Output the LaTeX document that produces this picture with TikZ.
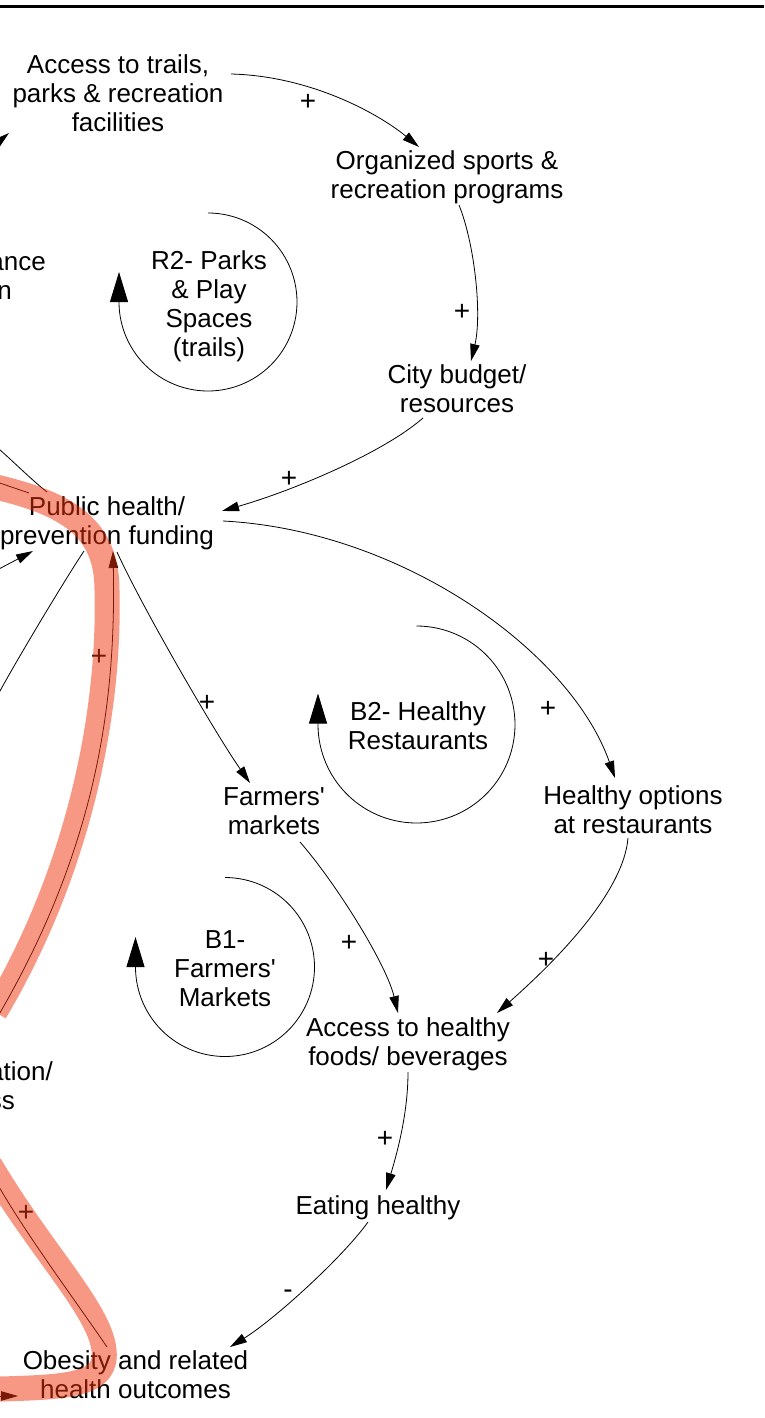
\documentclass[tikz,border=0pt]{standalone}
\usepackage{fontspec}
\setmainfont{Liberation Sans}
\usetikzlibrary{arrows.meta}

\definecolor{hilite}{RGB}{240,50,10}

\begin{document}
\begin{tikzpicture}[x=1pt,y=-1pt,
  var/.style={inner sep=0pt, align=center, font=\fontsize{26}{29}\selectfont},
  frag/.style={inner sep=0pt, anchor=base east, font=\fontsize{26}{29}\selectfont},
  pol/.style={inner sep=0pt, font=\fontsize{28}{29}\selectfont},
  link/.style={line width=0.8pt, -{Triangle[length=17pt,width=9.5pt]}},
  tail/.style={line width=0.8pt},
  loopline/.style={line width=0.8pt, -{Triangle[length=30pt,width=18pt]}},
  band/.style={line width=25pt, draw=hilite, opacity=0.5, line cap=butt, line join=round},
]
\useasboundingbox (0,0) rectangle (764,1418);
\clip (0,0) rectangle (764,1418);

% frame edge along the top
\draw[line width=3pt] (0,6.5) -- (764,6.5);

% variables
\node[var] (acc) at (118,93) {Access to trails,\\parks \& recreation\\facilities};
\node[var] (org) at (447,177.5) {Organized sports \&\\recreation programs};
\node[var] (city) at (457,389) {City budget/\\resources};
\node[var] (ph) at (107,523.5) {Public health/\\prevention funding};
\node[var] (fm) at (274,811) {Farmers\textquotesingle\\markets};
\node[var] (hor) at (633,809.5) {Healthy options\\at restaurants};
\node[var] (ahf) at (408,1044) {Access to healthy\\foods/ beverages};
\node[var] (eat) at (378,1208) {Eating healthy};
\node[var] (obe) at (135.5,1375) {Obesity and related\\health outcomes};

% variables cut by the left edge
\node[frag] (perf1) at (46,270) {ance};
\node[frag] (perf2) at (12,299) {n};
\node[frag] (edu1) at (53,1080) {ation/};
\node[frag] (edu2) at (15,1109) {ss};

% loop labels
\node[var] (r2) at (209,306) {R2- Parks\\\& Play\\Spaces\\(trails)};
\node[var] (b2) at (418,726) {B2- Healthy\\Restaurants};
\node[var] (b1) at (225,968.5) {B1-\\Farmers\textquotesingle\\Markets};

% loop arrows
\draw[loopline] plot[domain=0:270, samples=91] ({208+89*cos(90-\x)},{302-89*sin(90-\x)}) -- ++(0,-30);
\draw[loopline] plot[domain=0:270, samples=91] ({416.5+98.5*cos(90-\x)},{724.5-98.5*sin(90-\x)}) -- ++(0,-31);
\draw[loopline] plot[domain=0:270, samples=91] ({225+89.5*cos(90-\x)},{967-89.5*sin(90-\x)}) -- ++(0,-30);

% free ends leaving the frame
\coordinate (accIn) at (-40,174);
\coordinate (phOutUp) at (-10,442);
\coordinate (phOutLeft) at (-12,479);
\coordinate (phInLeft) at (-20,579);
\coordinate (phOutDown) at (-8,706);
\coordinate (phInLow) at (-6,1023);
\coordinate (obeOut) at (-8,1174);
\coordinate (obeIn) at (-30,1396);

% causal links
\draw[link] (accIn) -- ([shift={(-109,40)}]acc.center);
\draw[link] ([shift={(113,-19)}]acc.center) .. controls +(80,2) and +(-40,-33) .. ([shift={(-28,-30.5)}]org.center);
\draw[link] ([shift={(12,27.5)}]org.center) .. controls +(16,40) and +(11,-46) .. ([shift={(14,-28)}]city.center);
\draw[link] ([shift={(-34,29)}]city.center) .. controls +(-40,35) and +(70,-20) .. ([shift={(115,-12.5)}]ph.center);
\draw[link] ([shift={(116,-2.5)}]ph.center) .. controls +(177,9) and +(-45,-128) .. ([shift={(-18,-31.5)}]hor.center);
\draw[link] ([shift={(10,28.5)}]ph.center) .. controls +(25,55) and +(-35,-50) .. ([shift={(-24,-28)}]fm.center);
\draw[tail] ([shift={(-23,27.5)}]ph.center) .. controls +(-20,30) and +(15,-30) .. (phOutDown);
\draw[link] (phInLeft) -- ([shift={(-74,27.5)}]ph.center);
\draw[tail] ([shift={(-60,-31.5)}]ph.center) .. controls +(-18,-14) and +(12,8) .. (phOutUp);
\draw[tail] ([shift={(-78,-30.5)}]ph.center) -- (phOutLeft);
\draw[link] (phInLow) .. controls +(104,-175) and +(3,149) .. ([shift={(6,27.5)}]ph.center);
\draw[link] ([shift={(26,31)}]fm.center) .. controls +(35,40) and +(-12,-50) .. ([shift={(-10,-31)}]ahf.center);
\draw[link] ([shift={(-5,28.5)}]hor.center) .. controls +(-5,60) and +(45,-40) .. ([shift={(89,-31)}]ahf.center);
\draw[link] ([shift={(0,28)}]ahf.center) .. controls +(0,40) and +(12,-40) .. ([shift={(8,-18)}]eat.center);
\draw[link] ([shift={(-10,14)}]eat.center) .. controls +(-25,35) and +(45,-28) .. ([shift={(94.5,-28)}]obe.center);
\draw[tail] ([shift={(-28.5,-28)}]obe.center) .. controls +(-32,-47) and +(25,48) .. (obeOut);
\draw[link] (obeIn) -- ([shift={(-117.5,21)}]obe.center);

% polarities
\node[pol] (s1) at (308,102) {+};
\node[pol] (s2) at (462,312) {+};
\node[pol] (s3) at (289,479) {+};
\node[pol] (s4) at (99,657) {+};
\node[pol] (s5) at (207,703) {+};
\node[pol] (s6) at (548,709) {+};
\node[pol] (s7) at (349,943) {+};
\node[pol] (s8) at (546,960) {+};
\node[pol] (s9) at (385,1139) {+};
\node[pol] (s10) at (288,1294) {-};
\node[pol] (s11) at (26,1213) {+};

% highlighted loop path
\draw[band] (-15,484) -- (0,488) .. controls (70,505) and (107,530) .. (107,590)
  .. controls (110,700) and (85,860) .. (-5,1012);
\draw[band] (-10,1165) .. controls (40,1250) and (100,1310) .. (104,1350)
  .. controls (108,1385) and (70,1387) .. (0,1389) -- (-15,1389);
\end{tikzpicture}
\end{document}
